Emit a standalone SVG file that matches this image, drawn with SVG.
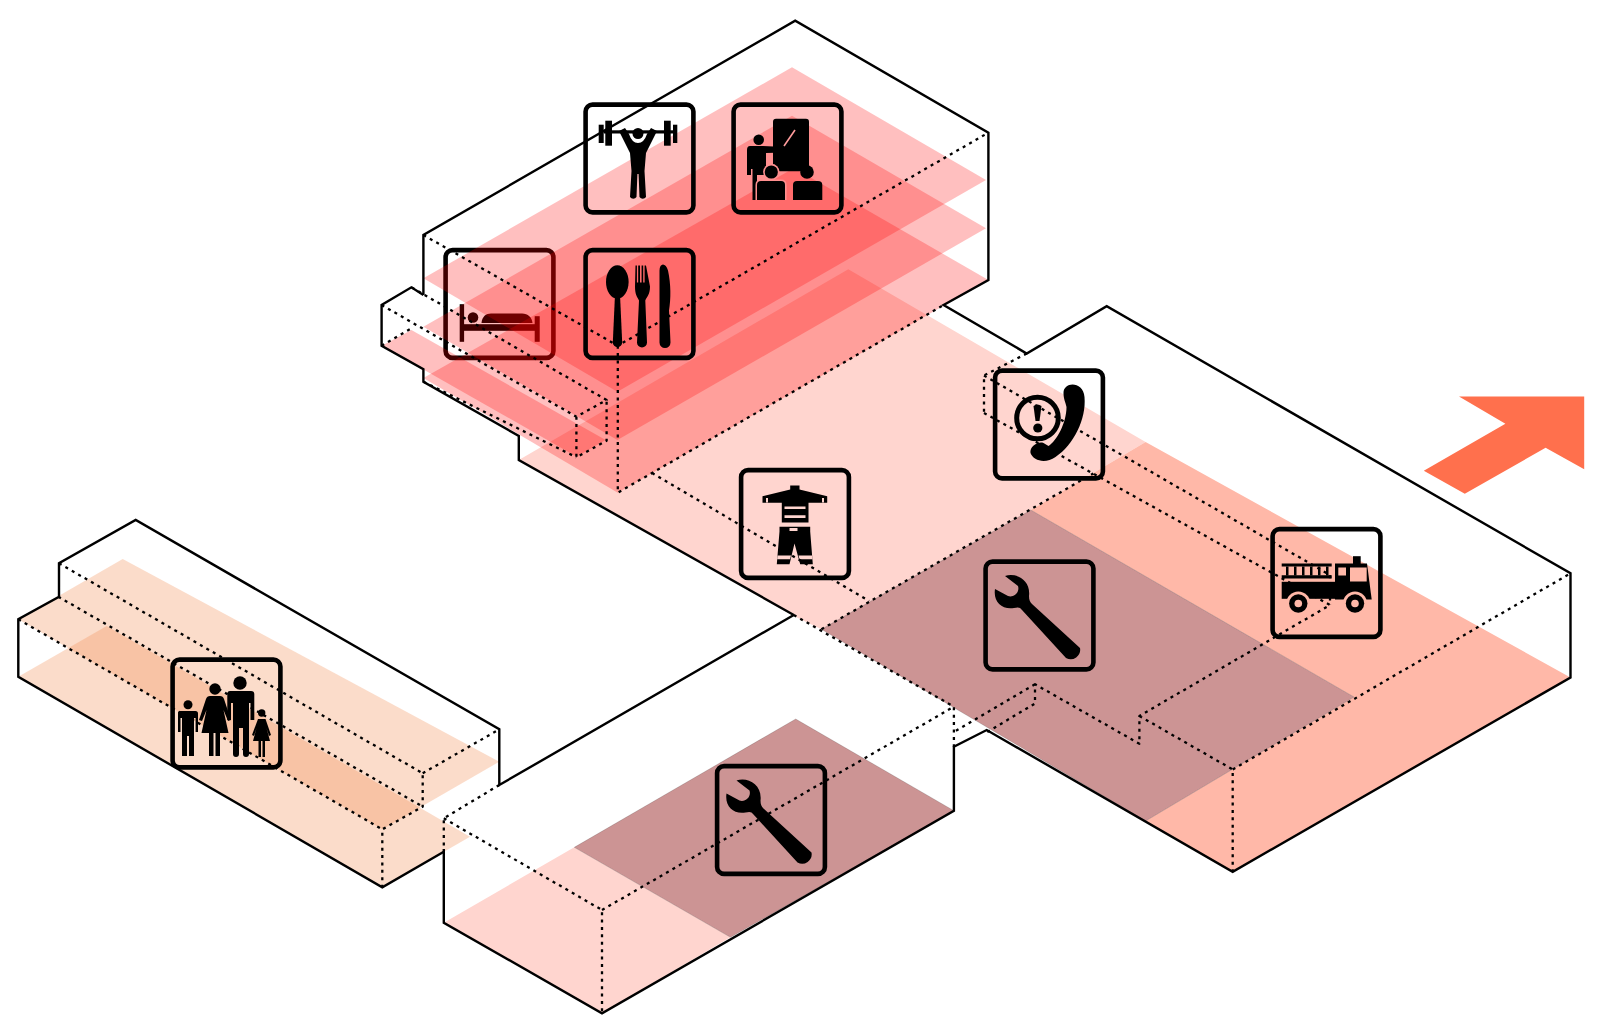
<svg xmlns="http://www.w3.org/2000/svg" width="1600" height="1035" viewBox="0 0 1600 1035">
<style>
.solid{fill:none;stroke:#000;stroke-width:2.4;stroke-linejoin:miter}
.dash{fill:none;stroke:#000;stroke-width:2.3;stroke-dasharray:3 4.4;stroke-linejoin:round}
.red{fill:#f00;fill-opacity:.25}
.pale{fill:#ffd5cf}
.mauve{fill:#cc9494;stroke:#000;stroke-opacity:.25;stroke-width:.6}
.salmon{fill:#ffb8a8}
.peach{fill:#f28a50;fill-opacity:.3}
.box{fill:none;stroke:#000;stroke-width:4.6}
.k{fill:#000}
</style>
<defs>
<rect id="frame" class="box" x="1.6" y="1.6" width="107.8" height="107.8" rx="7"/>
<path id="wrench" d="M21,16C32,12 47,20 45,36C45,40 46,42 48,44L96,88A9.5,9.5 0 0 1 82,98L38,50C36,47 34,47 30,48C18,50 9,42 11,29L24,36C30,38 36,32 34,26Z"/>
</defs>
<rect width="1600" height="1035" fill="#fff"/>

<g id="node-bed" transform="translate(444,248.5)">
<use href="#frame"/>
<rect class="k" x="15.7" y="55.7" width="4.4" height="37.6"/>
<rect class="k" x="90.7" y="67.7" width="5" height="25.6"/>
<rect class="k" x="20" y="75.7" width="72" height="6.6"/>
<circle class="k" cx="29" cy="69" r="5.3"/>
<path class="k" d="M37.5,74.5C38,68 42,65 47,65H78C84,65 88,69 88.5,74.5Z"/>
</g>

<g id="floors">
<polygon class="peach" points="18.3,619.3 122.7,559 499.3,761.7 382.3,829.3"/>
<polygon class="peach" points="18.3,676.7 106.7,626 470,836.7 382.3,887.3"/>
<polygon class="pale" points="518.8,460 848.3,269.3 1145.6,442 1030.8,510 821.4,629.3 793.8,616"/>
<polygon class="salmon" points="1145.6,442 1570.5,677.5 1232.7,871.8 1145.6,821 1354,697 1030.8,510"/>
<polygon class="mauve" points="821.4,629.3 1030.8,510 1354,697 1145.6,821"/>
<polygon class="pale" points="443.8,922.7 574.3,847.3 730.5,937.3 602,1013.3"/>
<polygon class="mauve" points="574.3,847.3 795.7,719 953.9,810.7 730.5,937.3"/>
<polygon class="red" points="381.7,345.7 411.4,330 605.7,440 576.7,456.7"/>
<polygon class="red" points="423.4,378 794,168 988.4,280 617.8,492.7"/>
<polygon class="red" points="423.4,326.7 792,115.7 986,228.3 617.4,440"/>
<polygon class="red" points="423.4,278.3 792,67.3 986,180 617.4,391.7"/>
</g>

<g id="node-gym" transform="translate(584,103)">
<use href="#frame"/>
<rect class="k" x="14.7" y="21.7" width="5" height="18.3"/>
<rect class="k" x="21.3" y="17.7" width="6.7" height="25"/>
<rect class="k" x="80" y="17.7" width="6.7" height="25"/>
<rect class="k" x="89" y="21.7" width="4.3" height="18.3"/>
<rect class="k" x="20" y="27.3" width="70" height="3.2"/>
<circle class="k" cx="54" cy="30.5" r="5.5"/>
<path class="k" d="M35,28L41,25L45,31Q48,40 54,40Q60,40 63,31L67,25L73,28L62,50L60.5,68L62,94A4,4 0 0 1 55.5,94L54.6,71H53.4L52.5,94A4,4 0 0 1 46,94L47.5,68L46,50Z"/>
</g>

<g id="node-teach" transform="translate(732,103)">
<use href="#frame"/>
<rect class="k" x="41" y="15.7" width="36" height="52.6" rx="3"/>
<path d="M63,27L52,43" fill="none" stroke="#ff9c9c" stroke-width="1.6"/>
<circle class="k" cx="26.7" cy="36.7" r="5.3"/>
<path class="k" d="M18,43H31L52,44V49.5L34,50V72H25V97H20.5V66H19V72H15V47Q15,43 18,43Z"/>
<circle cx="39.3" cy="69" r="8.2" fill="#ff8f8f"/>
<circle class="k" cx="39.3" cy="69" r="6.6"/>
<path d="M23.5,97V82Q23.5,76.5 29,76.5H49Q54.6,76.5 54.6,82V97Z" fill="#ff8f8f"/>
<path class="k" d="M25,97V82Q25,78 29,78H49Q53,78 53,82V97Z"/>
<circle class="k" cx="75" cy="69" r="6.8"/>
<path class="k" d="M61,97V82Q61,78 65,78H86Q90.3,78 90.3,82V97Z"/>
</g>

<g id="node-food" transform="translate(584,248.5)">
<use href="#frame"/>
<ellipse class="k" cx="33.3" cy="33.5" rx="11.3" ry="16.7"/>
<path class="k" d="M31,46H36L38.2,94A4.6,4.6 0 0 1 28.8,94Z"/>
<path class="k" d="M51.5,17H52.9V34H54.2V17H56V34H57.6V17H59.2V34H60.6V17H62L66,38C66,46 63,48 61.3,52L63,94A5,5 0 0 1 53,94L55,52C53,48 51,46 51,38Z"/>
<path class="k" d="M75.5,22C75.5,14 82,14 84,22C87,36 87,50 85,62L86.5,94A5.5,5.5 0 0 1 75.5,94Z"/>
</g>

<g id="node-fire" transform="translate(739.5,468.5)">
<use href="#frame"/>
<path class="k" d="M50.7,17H60V21L87.7,27.7V34.3H69V54H42.3V34.3H23V27.7L50.7,21Z"/>
<path class="pale" d="M45,38H66V40.5H45ZM45,46.7H66V49.5H45ZM26.5,29.5H28.5V34H26.5ZM82.5,29.5H84.5V34H82.5Z"/>
<path class="k" d="M40,58.3H70.7V63L73.3,95.7H60.7L55,75L50,95.7H37.3L40,63Z"/>
<path class="pale" d="M38,87H51.5L50.6,90.7H37.7ZM59,87H72.6L73,90.7H60Z"/>
<rect class="pale" x="50" y="59.5" width="8" height="3"/>
</g>

<g id="node-phone" transform="translate(993.5,369)">
<use href="#frame"/>
<circle cx="44" cy="49" r="20.8" fill="none" stroke="#000" stroke-width="5"/>
<path class="k" d="M40,37Q44,34 48,37L46,52H42Z"/>
<circle class="k" cx="44.3" cy="59" r="4.6"/>
<path class="k" d="M70,24C70,12 90,12 91,28C93,50 80,76 62,88C52,95 40,92 37,84C36,78 44,72 50,74L55,77C63,72 73,54 73,38C72,33 70,30 70,24Z"/>
</g>

<g id="node-wrench-a" transform="translate(984,560)">
<use href="#frame"/>
<use href="#wrench"/>
</g>

<g id="node-wrench-b" transform="translate(715.5,764.5)">
<use href="#frame"/>
<use href="#wrench"/>
</g>

<g id="node-truck" transform="translate(1271,527.5)">
<use href="#frame"/>
<path class="k" d="M10.7,36H60.7V39H10.7ZM10.7,47.7H60.7V51H10.7Z"/>
<path class="k" d="M15,39h2.5v9h-2.5ZM23,39h2.5v9h-2.5ZM31,39h2.5v9h-2.5ZM39,39h2.5v9h-2.5ZM47,39h2.5v9h-2.5ZM55,39h2.5v9h-2.5Z"/>
<rect class="k" x="82" y="28.7" width="7.7" height="8"/>
<path class="k" d="M64,36H96L100.7,72H64Z"/>
<rect class="k" x="10.7" y="54.3" width="53.3" height="17"/>
<rect class="salmon" x="67.3" y="40" width="7.7" height="8"/>
<rect class="salmon" x="79" y="40" width="16.7" height="14"/>
<circle class="salmon" cx="27.3" cy="76" r="12"/>
<circle class="salmon" cx="84" cy="76" r="12"/>
<circle class="k" cx="27.3" cy="76" r="9.2"/>
<circle class="k" cx="84" cy="76" r="9.2"/>
<circle class="salmon" cx="27.3" cy="76" r="3.8"/>
<circle class="salmon" cx="84" cy="76" r="3.8"/>
</g>

<g id="node-family" transform="translate(171,658)">
<use href="#frame"/>
<circle class="k" cx="17" cy="46.7" r="4.5"/>
<path class="k" d="M9.5,53H24.5Q27,53 27,55.5V74H24.6V60H23V98H18V78H16V98H11V60H9.5V74H7V55.5Q7,53 9.5,53Z"/>
<circle class="k" cx="44" cy="31" r="5.7"/>
<path class="k" d="M39,38H49Q52,38 53,41L60,62L57,63L52.5,52L57.5,75H49V98H44.5V75H42.5V98H38V75H30.5L35.5,52L31,63L28,62L35,41Q36,38 39,38Z"/>
<circle class="k" cx="69" cy="25" r="6.7"/>
<path class="k" d="M59,33H80Q83.3,33 83.3,36V62H79.5V45H78V96A3,3 0 0 1 72,96V70H68V96A3,3 0 0 1 62,96V45H60V62H56.3V36Q56.3,33 59,33Z"/>
<circle class="k" cx="90.7" cy="55" r="3.7"/>
<path class="k" d="M87,61H94.5L100,77L98,78L95.5,70L99,83H94V99H91.5V83H90V99H87.5V83H82L85.5,70L83,78L81,77Z"/>
</g>

<g id="arrow">
<polygon fill="#ff704d" points="1459,396.5 1584.2,396.5 1584.2,469.2 1545.6,447.7 1464.8,493.8 1423.8,470.8 1505.4,423.8"/>
</g>

<g id="connectors">
<path class="solid" d="M423.4,295V235L795.2,20.7L988.4,132.7V280L943.6,305L1026.7,353.5L1106.7,306.2L1570.5,573.3V677.5L1232.7,871.8L986.7,730L953.9,746.7V810.7L602,1013.3L443.8,922.7V849"/>
<path class="solid" d="M423.4,295L411.4,287.3L381.6,305V345.7L423.4,369.3V381.7L518.8,436V460L793.8,615"/>
<path class="solid" d="M793.8,615L499.3,785V729.3L135.7,520L59,563.3V596.7L18.3,619.3V676.7L382.3,887.3L443.8,851.7"/>
<path class="dash" d="M423.4,235L617.8,345.7L988.4,132.7M617.8,345.7V492.7L943.6,305"/>
<path class="dash" d="M381.6,305L576.4,416.7L606.6,400L411.4,287.3M576.4,416.7V457.3L606.6,440.7V400M381.6,345.7L411.4,328.3M423.4,381.7L576.4,457.3"/>
<path class="dash" d="M652,473L869,601M793.8,615L953.9,706.7"/>
<path class="dash" d="M1026.7,353.5L984,375.5V413M984,375.5L1330,575V605M984,413L1330,605L1139.4,716V743.8L1035,684.2V703.5L987.3,732M1139.4,716L1232.7,769.5V871.8M1232.7,769.5L1570.5,573.3M1035,684.2L953.9,732M821.4,629.3L1093.4,473.4"/>
<path class="dash" d="M59,563.3L422.7,773.3V806.7L382.3,829.3V887.3M58.3,596.7L422.7,806.7M18.3,619.3L382.3,829.3M422.7,773.3L499.3,729.3"/>
<path class="dash" d="M499.3,785L443.8,818.3V849M443.8,818.3L602,910V1013.3M602,910L953.9,706.7V746.7"/>
</g>
</svg>
